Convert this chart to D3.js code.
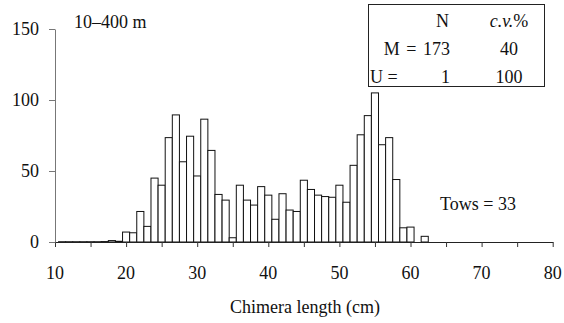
<!DOCTYPE html>
<html>
<head>
<meta charset="utf-8">
<script src="https://cdn.jsdelivr.net/npm/d3@7/dist/d3.min.js"></script>
<style>
  html, body { margin: 0; padding: 0; background: #fff; }
  svg { display: block; }
  text { font-family: "Liberation Serif", "Times New Roman", serif; fill: #111; }
</style>
</head>
<body>
<svg id="chart" width="564" height="323"></svg>
<script>
// Length-frequency of chimera catches, 1 cm classes
const lengths = [11, 12, 13, 14, 15, 16, 17, 18, 19, 20, 21, 22, 23, 24, 25, 26, 27, 28, 29, 30,
                 31, 32, 33, 34, 35, 36, 37, 38, 39, 40, 41, 42, 43, 44, 45, 46, 47, 48, 49, 50,
                 51, 52, 53, 54, 55, 56, 57, 58, 59, 60, 61, 62];
const counts  = [0.2, 0.2, 0.2, 0.2, 0.2, 0.2, 0.3, 1, 0.5, 7, 6.5, 21.5, 11, 45, 40, 73.5, 89.5, 56.5, 74.5, 46.5,
                 86.5, 64.5, 33.5, 29.5, 3, 40, 29.5, 26, 39, 33, 16, 34, 22.5, 21.5, 43.5, 37, 33, 32, 31.5, 40,
                 28, 54, 75.5, 89, 105, 68.5, 73.5, 44, 10, 10.5, 0, 4];

const xTicks = [10, 15, 20, 25, 30, 35, 40, 45, 50, 55, 60, 65, 70, 75, 80];
const xLabels = [10, 20, 30, 40, 50, 60, 70, 80];
const yTicks = [0, 50, 100, 150];

const statHeader = ["N", "c.v.%"];
const statRows = [
  { name: "M = 173", n: "", cv: "40" },
  { name: "U =", n: "1", cv: "100" }
];
const depthLabel = "10\u2013400 m";
const towsLabel = "Tows = 33";
const xTitle = "Chimera length (cm)";

const FS = 18;

const svg = d3.select("#chart");
const x = d3.scaleLinear().domain([10, 80]).range([55, 552.7]);
const y = d3.scaleLinear().domain([0, 150]).range([242, 29]);

// bars, centred on each length class
svg.append("g").selectAll("rect")
  .data(lengths.map((L, i) => ({ L, c: counts[i] })))
  .join("rect")
  .attr("x", d => x(d.L - 0.5))
  .attr("width", d => x(d.L + 0.5) - x(d.L - 0.5))
  .attr("y", d => y(d.c))
  .attr("height", d => y(0) - y(d.c))
  .attr("fill", "#fff")
  .attr("stroke", "#111")
  .attr("stroke-width", 1);

// x axis
const xAxis = svg.append("g")
  .attr("transform", `translate(0,${y(0)})`)
  .call(d3.axisBottom(x).tickValues(xTicks).tickSize(5).tickSizeOuter(0).tickFormat(""));
xAxis.select(".domain").attr("stroke", "#222");
xAxis.selectAll(".tick line").attr("stroke", "#333");

svg.append("g").selectAll("text")
  .data(xLabels)
  .join("text")
  .attr("x", d => x(d))
  .attr("y", 279)
  .attr("text-anchor", "middle")
  .attr("font-size", FS)
  .text(d => d);

// y axis
const yAxis = svg.append("g")
  .attr("transform", `translate(${x(10)},0)`)
  .call(d3.axisLeft(y).tickValues(yTicks).tickSize(6).tickSizeOuter(0).tickPadding(10));
yAxis.select(".domain").attr("stroke", "#777");
yAxis.selectAll(".tick line").attr("stroke", "#777");
yAxis.selectAll(".tick text")
  .attr("font-size", FS)
  .attr("font-family", "Liberation Serif, serif")
  .attr("fill", "#111");

// axis title
svg.append("text")
  .attr("x", 305)
  .attr("y", 313)
  .attr("text-anchor", "middle")
  .attr("font-size", FS)
  .text(xTitle);

// annotations
svg.append("text")
  .attr("x", 74).attr("y", 28)
  .attr("font-size", FS)
  .text(depthLabel);

svg.append("text")
  .attr("x", 440).attr("y", 210)
  .attr("font-size", FS)
  .text(towsLabel);

// stats table
const box = svg.append("g");
box.append("rect")
  .attr("x", 368.5).attr("y", 4.5)
  .attr("width", 176).attr("height", 82)
  .attr("fill", "#fff")
  .attr("stroke", "#222")
  .attr("stroke-width", 1);

box.append("text")
  .attr("x", 449).attr("y", 27)
  .attr("text-anchor", "end")
  .attr("font-size", FS)
  .text(statHeader[0]);

const cvText = box.append("text")
  .attr("x", 509).attr("y", 27)
  .attr("text-anchor", "middle")
  .attr("font-size", FS);
cvText.append("tspan").attr("font-style", "italic").text("c.v.");
cvText.append("tspan").text("%");

statRows.forEach((r, i) => {
  const by = 55 + i * 28;
  if (r.n === "") {
    box.append("text")
      .attr("x", 450).attr("y", by)
      .attr("text-anchor", "end")
      .attr("font-size", FS)
      .attr("word-spacing", 2)
      .text(r.name);
  } else {
    box.append("text")
      .attr("x", 370).attr("y", by)
      .attr("font-size", FS)
      .text(r.name);
    box.append("text")
      .attr("x", 450).attr("y", by)
      .attr("text-anchor", "end")
      .attr("font-size", FS)
      .text(r.n);
  }
  box.append("text")
    .attr("x", 509).attr("y", by)
    .attr("text-anchor", "middle")
    .attr("font-size", FS)
    .text(r.cv);
});
</script>
</body>
</html>
